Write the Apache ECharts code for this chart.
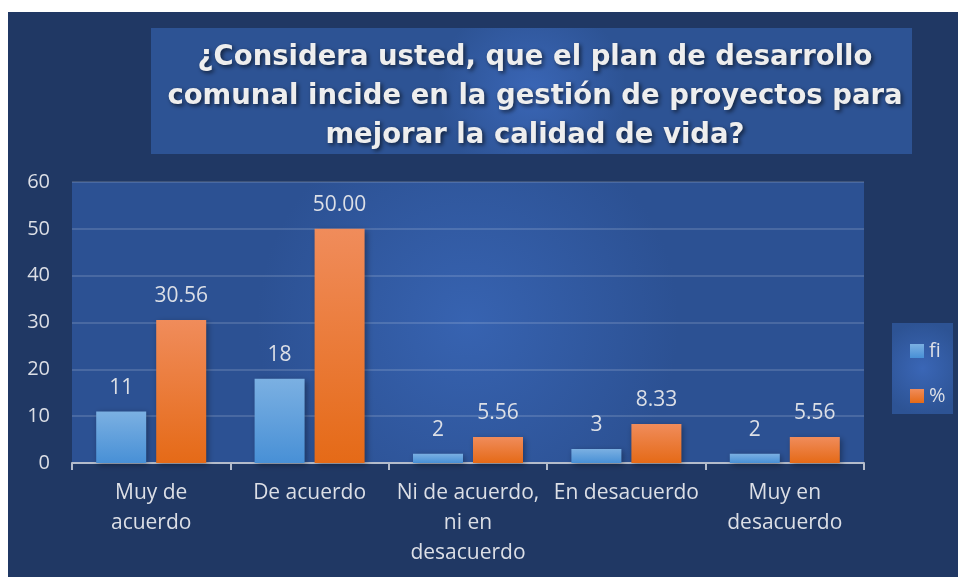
<!DOCTYPE html>
<html>
<head>
<meta charset="utf-8">
<script src="https://cdn.jsdelivr.net/npm/echarts@6/dist/echarts.min.js"></script>
<style>
  html, body { margin: 0; padding: 0; background: #ffffff; }
  #chart { position: absolute; left: 8px; top: 12px; width: 950px; height: 565px; }
</style>
</head>
<body>
<div id="chart"></div>
<script>
// datos de la encuesta
var categorias = ["Muy de\nacuerdo", "De acuerdo", "Ni de acuerdo,\nni en\ndesacuerdo", "En desacuerdo", "Muy en\ndesacuerdo"];
var fi = [11, 18, 2, 3, 2];
var porcentaje = [30.56, 50.0, 5.56, 8.33, 5.56];
var yTicks = [0, 10, 20, 30, 40, 50, 60];
var titulo = "¿Considera usted, que el plan de desarrollo\ncomunal incide en la gestión de proyectos para\nmejorar la calidad de vida?";

var chart = echarts.init(document.getElementById("chart"));

var txtColor = "#dcdfe6";
var font = "'Open Sans', 'Noto Sans', sans-serif";

function grad(top, bottom) {
  return new echarts.graphic.LinearGradient(0, 0, 0, 1, [
    { offset: 0, color: top },
    { offset: 1, color: bottom }
  ]);
}
function radial(inner, outer) {
  return new echarts.graphic.RadialGradient(0.5, 0.5, 0.75, [
    { offset: 0, color: inner },
    { offset: 1, color: outer }
  ]);
}

var option = {
  backgroundColor: "#203864",
  animation: false,
  graphic: [
    {
      type: "rect",
      shape: { x: 143, y: 16, width: 761, height: 126 },
      style: { fill: radial("#3a66b6", "#2d5394") },
      z: 0
    },
    {
      type: "rect",
      shape: { x: 884, y: 311, width: 61, height: 91 },
      style: { fill: radial("#3a66b6", "#2d5394") },
      z: 0
    }
  ],
  title: {
    text: titulo,
    left: 522,
    top: 21,
    textAlign: "center",
    textStyle: {
      color: "#eeeeee",
      fontFamily: "'DejaVu Sans', sans-serif",
      fontWeight: "bold",
      fontSize: 27.5,
      lineHeight: 39,
      textShadowColor: "rgba(0,0,0,0.6)",
      textShadowBlur: 4,
      textShadowOffsetX: 2,
      textShadowOffsetY: 2
    }
  },
  legend: {
    orient: "vertical",
    left: 897,
    top: 323,
    itemWidth: 14,
    itemHeight: 14,
    itemGap: 23,
    icon: "rect",
    textStyle: { color: txtColor, fontFamily: font, fontSize: 20, lineHeight: 22 },
    data: ["fi", "%"]
  },
  grid: {
    left: 64,
    top: 170,
    width: 792,
    height: 281,
    show: true,
    borderWidth: 0,
    backgroundColor: radial("#3763b1", "#2c5193")
  },
  xAxis: {
    type: "category",
    data: categorias,
    axisLine: { lineStyle: { color: "#b4bccb", width: 2 } },
    axisTick: { show: true, length: 7, lineStyle: { color: "#b4bccb", width: 2 } },
    axisLabel: {
      color: txtColor,
      fontFamily: font,
      fontSize: 21,
      lineHeight: 30,
      margin: 15,
      interval: 0
    }
  },
  yAxis: {
    type: "value",
    min: yTicks[0],
    max: yTicks[yTicks.length - 1],
    interval: 10,
    axisLine: { show: false },
    axisTick: { show: false },
    axisLabel: { color: txtColor, fontFamily: font, fontSize: 20, margin: 22 },
    splitLine: { lineStyle: { color: "rgba(255,255,255,0.14)", width: 2 } }
  },
  series: [
    {
      name: "fi",
      type: "bar",
      data: fi,
      barWidth: 50,
      barGap: "20%",
      itemStyle: {
        color: grad("#7bb0e2", "#4890d6"),
        shadowColor: "rgba(0,0,0,0.35)",
        shadowBlur: 6,
        shadowOffsetX: 2,
        shadowOffsetY: 2
      },
      label: {
        show: true,
        position: "top",
        distance: 13,
        color: txtColor,
        fontFamily: font,
        fontSize: 21
      }
    },
    {
      name: "%",
      type: "bar",
      data: porcentaje,
      barWidth: 50,
      itemStyle: {
        color: grad("#f08c5b", "#e56a17"),
        shadowColor: "rgba(0,0,0,0.35)",
        shadowBlur: 6,
        shadowOffsetX: 2,
        shadowOffsetY: 2
      },
      label: {
        show: true,
        position: "top",
        distance: 13,
        color: txtColor,
        fontFamily: font,
        fontSize: 21,
        formatter: function (p) { return p.value.toFixed(2); }
      }
    }
  ]
};

chart.setOption(option);
</script>
</body>
</html>
